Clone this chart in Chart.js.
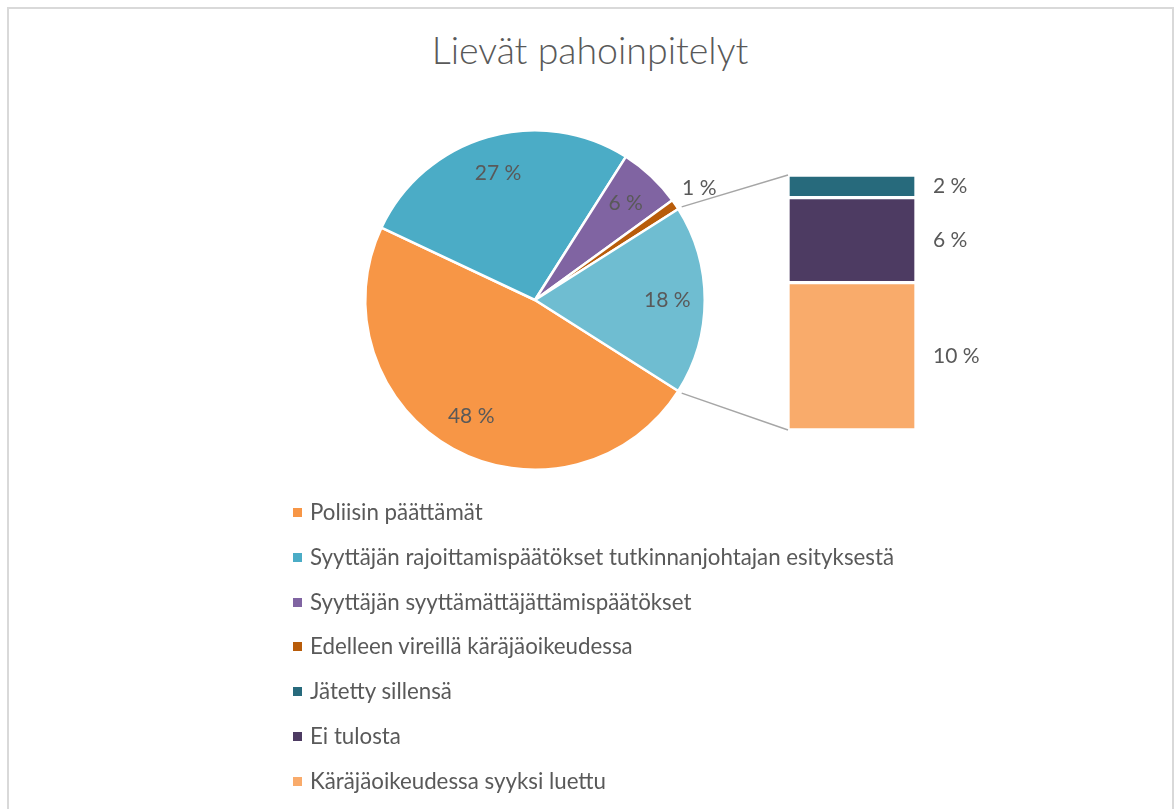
<!DOCTYPE html>
<html lang="fi">
<head>
<meta charset="utf-8">
<title>Lievät pahoinpitelyt</title>
<script src="https://cdn.jsdelivr.net/npm/chart.js@4.4.1/dist/chart.umd.min.js"></script>
<style>
  html, body { margin: 0; padding: 0; background: #fff; }
  body { width: 1176px; height: 809px; position: relative; overflow: hidden; font-family: Lato, 'Open Sans', sans-serif; color: #595959; }
  .frame { position: absolute; left: 7px; top: 7px; width: 1163px; height: 830px; border: 2px solid #d9d9d9; }
  .title { position: absolute; left: 0; width: 1180px; top: 28px; text-align: center; font-size: 37.5px; line-height: 44px; font-weight: 300; }
  canvas { position: absolute; left: 0; top: 0; }
  .legend { position: absolute; left: 293px; top: 497px; margin: 0; padding: 0; list-style: none; font-size: 22.3px; }
  .legend li { height: 44.8px; line-height: 30px; display: flex; align-items: flex-start; }
  .legend .box { width: 9px; height: 9px; margin: 11px 8px 0 0; flex: none; }
</style>
</head>
<body>
<div class="frame"></div>
<div class="title">Lievät pahoinpitelyt</div>
<canvas id="pieChart" width="1176" height="809"></canvas>
<canvas id="barChart" width="1176" height="809"></canvas>
<ul class="legend" id="legend"></ul>
<script>
// pie slices, the last one is split into the bar on the right
const pieLabels = ['Poliisin päättämät', 'Syyttäjän rajoittamispäätökset tutkinnanjohtajan esityksestä', 'Syyttäjän syyttämättäjättämispäätökset', 'Edelleen vireillä käräjäoikeudessa', 'Muut']
const pieValues = [48, 27, 6, 1, 18]
const pieColors = ['#f79646', '#4bacc6', '#8064a2', '#b85c0a', '#6fbdd1']

// bar segments, top to bottom
const barLabels = ['Jätetty sillensä', 'Ei tulosta', 'Käräjäoikeudessa syyksi luettu']
const barValues = [1.6, 6.0, 10.4]
const barColors = ['#276a7c', '#4d3b62', '#f9ab6b']

const textColor = '#595959'
const labelFont = '21px Lato, "Open Sans", sans-serif'
const pct = (v) => Math.round(v) + ' %'

// legend: first four pie slices + bar segments
const legendEl = document.getElementById('legend')
const legendItems = pieLabels.slice(0, 4).map((l, i) => [l, pieColors[i]])
  .concat(barLabels.map((l, i) => [l, barColors[i]]))
legendItems.forEach(([label, color]) => {
  const li = document.createElement('li')
  const box = document.createElement('span')
  box.className = 'box'
  box.style.background = color
  li.appendChild(box)
  li.appendChild(document.createTextNode(label))
  legendEl.appendChild(li)
})

const pieLabelPlugin = {
  id: 'pieLabels',
  afterDatasetsDraw (chart) {
    const ctx = chart.ctx
    const meta = chart.getDatasetMeta(0)
    ctx.save()
    ctx.font = labelFont
    ctx.fillStyle = textColor
    ctx.textAlign = 'center'
    ctx.textBaseline = 'middle'
    meta.data.forEach((arc, i) => {
      const { x, y, startAngle, endAngle, outerRadius } = arc.getProps(['x', 'y', 'startAngle', 'endAngle', 'outerRadius'])
      const mid = (startAngle + endAngle) / 2
      const r = pieValues[i] < 3 ? outerRadius * 1.17 : outerRadius * 0.78
      ctx.fillText(pct(pieValues[i]), x + Math.cos(mid) * r, y + Math.sin(mid) * r)
    })
    ctx.restore()
  }
}

const pieChart = new Chart(document.getElementById('pieChart'), {
  type: 'pie',
  data: {
    labels: pieLabels,
    datasets: [{
      data: pieValues,
      backgroundColor: pieColors,
      borderColor: '#ffffff',
      borderWidth: 2.5
    }]
  },
  options: {
    responsive: false,
    animation: false,
    rotation: 122.4,
    layout: { padding: { left: 364, right: 470, top: 129, bottom: 338 } },
    plugins: { legend: { display: false }, tooltip: { enabled: false } }
  },
  plugins: [pieLabelPlugin]
})

// stacked bar draws bottom first, so reverse the top-to-bottom arrays
const barDatasets = barLabels.map((label, i) => ({
  label,
  data: [barValues[i]],
  backgroundColor: barColors[i],
  borderColor: '#ffffff',
  borderWidth: 2,
  borderSkipped: false,
  barPercentage: 1,
  categoryPercentage: 1
})).reverse()

const barExtrasPlugin = {
  id: 'barExtras',
  afterDatasetsDraw (chart) {
    const ctx = chart.ctx
    ctx.save()
    // value labels right of each segment
    ctx.font = labelFont
    ctx.fillStyle = textColor
    ctx.textAlign = 'left'
    ctx.textBaseline = 'middle'
    chart.data.datasets.forEach((ds, i) => {
      const el = chart.getDatasetMeta(i).data[0]
      ctx.fillText(pct(ds.data[0]), el.x + el.width / 2 + 17, (el.y + el.base) / 2)
    })
    // connector lines from the split pie slice to the bar
    const arc = pieChart.getDatasetMeta(0).data[pieValues.length - 1]
    const { x, y, startAngle, endAngle, outerRadius } = arc.getProps(['x', 'y', 'startAngle', 'endAngle', 'outerRadius'])
    const topEl = chart.getDatasetMeta(chart.data.datasets.length - 1).data[0]
    const botEl = chart.getDatasetMeta(0).data[0]
    const left = botEl.x - botEl.width / 2
    const r = outerRadius + 4
    ctx.strokeStyle = '#a6a6a6'
    ctx.lineWidth = 1.5
    ctx.beginPath()
    ctx.moveTo(x + Math.cos(startAngle) * r, y + Math.sin(startAngle) * r)
    ctx.lineTo(left, topEl.y)
    ctx.moveTo(x + Math.cos(endAngle) * r, y + Math.sin(endAngle) * r)
    ctx.lineTo(left, botEl.base)
    ctx.stroke()
    ctx.restore()
  }
}

new Chart(document.getElementById('barChart'), {
  type: 'bar',
  data: {
    labels: ['Muut'],
    datasets: barDatasets
  },
  options: {
    responsive: false,
    animation: false,
    layout: { padding: { left: 788, right: 260, top: 175, bottom: 379 } },
    scales: {
      x: { display: false, stacked: true },
      y: { display: false, stacked: true, min: 0, max: barValues.reduce((a, b) => a + b, 0) }
    },
    plugins: { legend: { display: false }, tooltip: { enabled: false } }
  },
  plugins: [barExtrasPlugin]
})
</script>
</body>
</html>
